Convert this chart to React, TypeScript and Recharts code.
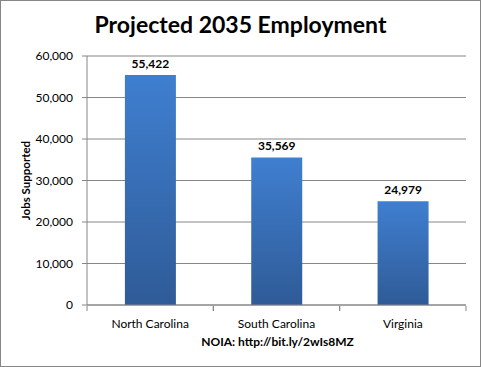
import React from 'react';
import {
  BarChart,
  Bar,
  XAxis,
  YAxis,
  CartesianGrid,
  LabelList,
} from 'recharts';

const states = ['North Carolina', 'South Carolina', 'Virginia'];
const jobs = [55422, 35569, 24979];
const yTicks = [0, 10000, 20000, 30000, 40000, 50000, 60000];

const data = states.map((state, i) => ({ state, jobs: jobs[i] }));

const FONT = 'Lato, "Open Sans", sans-serif';
const GRAY = '#868686';

const fmt = (v: number) => v.toLocaleString('en-US');

// tick label in the middle, tick marks on the category edges
function CategoryTick(props: any) {
  const { x, y, payload } = props;
  const half = 126.3 / 2;
  const top = y - 7;
  return (
    <g>
      <line x1={x - half} y1={top} x2={x - half} y2={top + 5} stroke={GRAY} />
      <line x1={x + half} y1={top} x2={x + half} y2={top + 5} stroke={GRAY} />
      <text
        x={x}
        y={top + 22}
        textAnchor="middle"
        fill="#000"
        fontSize={12}
        fontFamily={FONT}
      >
        {payload.value}
      </text>
    </g>
  );
}

export default function App() {
  return (
    <div
      style={{
        position: 'absolute',
        left: 0,
        top: 0,
        width: 481,
        height: 367,
        boxSizing: 'border-box',
        border: `1px solid ${GRAY}`,
        background: '#fff',
      }}
    >
      <div
        style={{
          position: 'absolute',
          left: 0,
          top: 9,
          width: 479,
          textAlign: 'center',
          fontFamily: FONT,
          fontWeight: 700,
          fontSize: 23,
          color: '#000',
        }}
      >
        Projected 2035 Employment
      </div>
      <div style={{ position: 'absolute', left: -1, top: -1 }}>
        <BarChart
          width={481}
          height={367}
          data={data}
          margin={{ top: 56, right: 15, bottom: 32, left: 0 }}
          barCategoryGap="30%"
        >
          <defs>
            <linearGradient id="barFill" x1="0" y1="0" x2="0" y2="1">
              <stop offset="0%" stopColor="#3f7fd0" />
              <stop offset="100%" stopColor="#2f5b97" />
            </linearGradient>
          </defs>
          <CartesianGrid vertical={false} stroke={GRAY} />
          <XAxis
            dataKey="state"
            height={30}
            stroke={GRAY}
            tickLine={false}
            tick={<CategoryTick />}
            interval={0}
          />
          <YAxis
            width={87}
            domain={[0, 60000]}
            ticks={yTicks}
            stroke={GRAY}
            tickSize={5}
            tickMargin={9}
            tickFormatter={fmt}
            tick={{ fill: '#000', fontSize: 12, fontFamily: FONT }}
            label={{
              value: 'Jobs Supported',
              angle: -90,
              position: 'insideLeft',
              offset: 26,
              style: { textAnchor: 'middle' },
              fill: '#000',
              fontSize: 11.5,
              fontWeight: 700,
              fontFamily: FONT,
            }}
          />
          <Bar dataKey="jobs" fill="url(#barFill)" isAnimationActive={false}>
            <LabelList
              dataKey="jobs"
              position="top"
              offset={7}
              formatter={(v: any) => fmt(Number(v))}
              fill="#000"
              fontSize={12}
              fontWeight={700}
              fontFamily={FONT}
            />
          </Bar>
        </BarChart>
      </div>
      <div
        style={{
          position: 'absolute',
          left: 86,
          top: 333,
          width: 381,
          textAlign: 'center',
          fontFamily: FONT,
          fontWeight: 700,
          fontSize: 12,
          color: '#000',
        }}
      >
        NOIA: http://bit.ly/2wIs8MZ
      </div>
    </div>
  );
}
